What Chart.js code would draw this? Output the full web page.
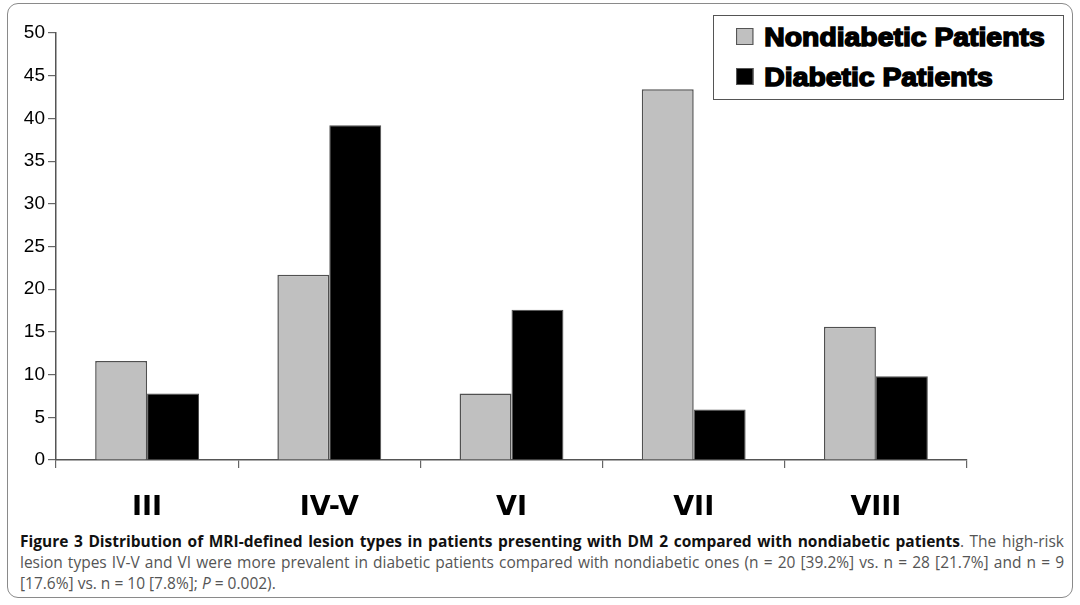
<!DOCTYPE html>
<html>
<head>
<meta charset="utf-8">
<script src="https://cdn.jsdelivr.net/npm/chart.js@4/dist/chart.umd.min.js"></script>
<style>
  html, body { margin: 0; padding: 0; background: #fff; }
  #page { position: relative; width: 1080px; height: 605px; overflow: hidden; }
  #frame { position: absolute; left: 7px; top: 3px; width: 1066px; height: 595px;
           border: 1.5px solid #8a8a8a; border-radius: 11px; box-sizing: border-box; }
  #chartWrap { position: absolute; left: 0; top: 0; width: 1080px; height: 525px; }
  #legend { position: absolute; left: 713px; top: 15px; width: 351px; height: 85px;
            border: 1px solid #555; box-sizing: border-box; background: #fff; }
  .lg { position: absolute; left: 22px; font: bold 26px "Liberation Sans", Arial, sans-serif;
        -webkit-text-stroke: 1.5px #000; color: #000; white-space: nowrap;
        transform: scaleX(1.09); transform-origin: left center; }
  .lg i { display: inline-block; width: 14px; height: 15px; border: 1px solid #555;
          margin-right: 10px; vertical-align: 1px; }
  #caption { position: absolute; left: 20px; width: 1044px; top: 531px;
             font: 15.5px "Open Sans", sans-serif; color: #555; line-height: 21px; }
  #caption div { white-space: nowrap; }
  #caption .j { text-align: justify; text-align-last: justify; white-space: normal; }
  #caption b { color: #111; font-weight: 700; }
</style>
</head>
<body>
<div id="page">
  <div id="frame"></div>
  <div id="chartWrap"><canvas id="c"></canvas></div>
  <div id="legend"></div>
  <div id="caption">
    <div class="j"><b>Figure 3 Distribution of MRI-defined lesion types in patients presenting with DM 2 compared with nondiabetic patients</b>. The high-risk</div>
    <div class="j">lesion types IV-V and VI were more prevalent in diabetic patients compared with nondiabetic ones (n = 20 [39.2%] vs. n = 28 [21.7%] and n = 9</div>
    <div>[17.6%] vs. n = 10 [7.8%]; <i>P</i> = 0.002).</div>
  </div>
</div>
<script>
const categories = ['III', 'IV-V', 'VI', 'VII', 'VIII'];
const nondiabetic = [11.6, 21.7, 7.8, 43.4, 15.6];
const diabetic    = [7.8, 39.2, 17.6, 5.9, 9.8];
const yTicks = [0, 5, 10, 15, 20, 25, 30, 35, 40, 45, 50];

const datasets = [
  { label: 'Nondiabetic Patients', data: nondiabetic, backgroundColor: '#c0c0c0', borderColor: '#505050', borderWidth: 1.5 },
  { label: 'Diabetic Patients',    data: diabetic,    backgroundColor: '#000000', borderColor: '#505050', borderWidth: 1 }
];

new Chart(document.getElementById('c').getContext('2d'), {
  type: 'bar',
  data: { labels: categories, datasets },
  options: {
    responsive: true,
    maintainAspectRatio: false,
    animation: false,
    layout: { padding: { left: 0, right: 113, top: 33, bottom: 0 } },
    datasets: { bar: { categoryPercentage: 0.57, barPercentage: 1.0 } },
    plugins: { legend: { display: false }, tooltip: { enabled: false } },
    scales: {
      x: {
        grid: { drawOnChartArea: false, offset: true, color: '#666', tickLength: 8, lineWidth: 1.2 },
        border: { color: '#555', width: 1.5 },
        ticks: { color: '#000', padding: 24, font: { family: 'DejaVu Sans', weight: 'bold', size: 27 } },
        afterFit: (s) => { s.height = 65; }
      },
      y: {
        min: 0, max: 50,
        afterBuildTicks: (s) => { s.ticks = yTicks.map(v => ({ value: v })); },
        grid: { drawOnChartArea: false, color: '#666', tickLength: 8, lineWidth: 1.2 },
        border: { color: '#555', width: 1.5 },
        ticks: { color: '#000', padding: 3, font: { family: 'Liberation Sans', size: 19 } },
        afterFit: (s) => { s.width = 56; }
      }
    }
  }
});

// legend box, top right, built from the datasets
const lg = document.getElementById('legend');
datasets.forEach((d, i) => {
  const row = document.createElement('div');
  row.className = 'lg';
  row.style.top = (6 + i * 40) + 'px';
  row.innerHTML = `<i style="background:${d.backgroundColor}"></i>${d.label}`;
  lg.appendChild(row);
});
</script>
</body>
</html>
